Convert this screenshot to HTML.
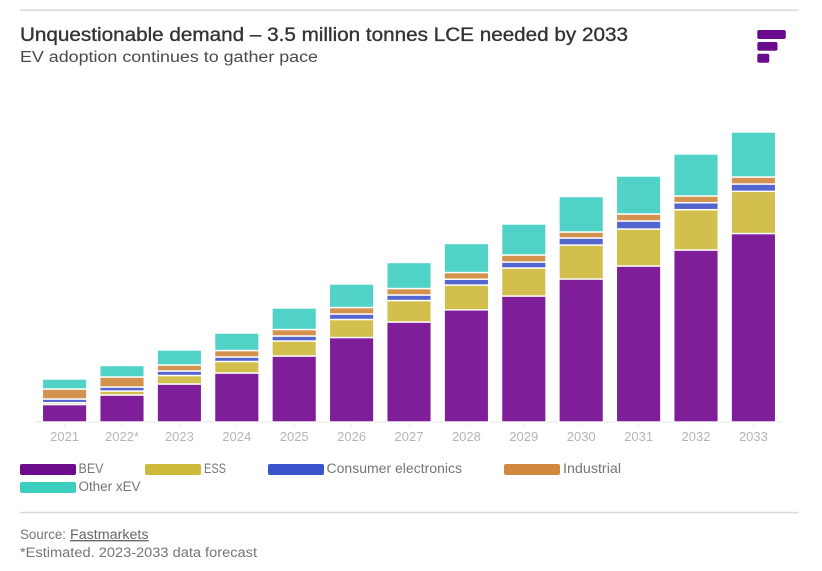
<!DOCTYPE html>
<html lang="en">
<head>
<meta charset="utf-8">
<title>Unquestionable demand</title>
<style>
  html, body { margin: 0; padding: 0; background: #fff; }
  svg { display: block; font-family: "Liberation Sans", sans-serif; }
</style>
</head>
<body>
<svg id="chart" xmlns="http://www.w3.org/2000/svg" width="822" height="571" viewBox="0 0 822 571">
  <rect x="20" y="9.5" width="779" height="1.5" fill="#d9d9d9"/>
  <text x="20" y="41" font-size="19.5" fill="#333333" stroke="#333333" stroke-width="0.35" textLength="608" lengthAdjust="spacingAndGlyphs">Unquestionable demand – 3.5 million tonnes LCE needed by 2033</text>
  <text x="20" y="62" font-size="15.5" fill="#4a4a4a" textLength="298" lengthAdjust="spacingAndGlyphs">EV adoption continues to gather pace</text>
  <g fill="#6a0a8e">
    <rect x="757.3" y="30" width="28.5" height="9" rx="2"/>
    <rect x="757.3" y="42" width="20.2" height="8.7" rx="2"/>
    <rect x="757.3" y="53.7" width="12" height="9" rx="2"/>
  </g>
  <g id="plot"></g>

  <g font-size="13.5" fill="#757575">
    <g>
      <rect x="20" y="464" width="56" height="11" rx="2" fill="#6c0b8c"/>
      <text x="78.5" y="473" textLength="25" lengthAdjust="spacingAndGlyphs">BEV</text>
    </g>
    <g>
      <rect x="145" y="464" width="56" height="11" rx="2" fill="#cdb93a"/>
      <text x="204" y="473" textLength="22" lengthAdjust="spacingAndGlyphs">ESS</text>
    </g>
    <g>
      <rect x="268" y="464" width="56" height="11" rx="2" fill="#3a55cc"/>
      <text x="326.5" y="473" textLength="135.5" lengthAdjust="spacingAndGlyphs">Consumer electronics</text>
    </g>
    <g>
      <rect x="504" y="464" width="56" height="11" rx="2" fill="#cf883c"/>
      <text x="563" y="473" textLength="58" lengthAdjust="spacingAndGlyphs">Industrial</text>
    </g>
    <g>
      <rect x="20" y="482" width="56" height="11" rx="2" fill="#3ccfc0"/>
      <text x="78.5" y="491" textLength="62" lengthAdjust="spacingAndGlyphs">Other xEV</text>
    </g>
  </g>

  <rect x="20" y="511.8" width="779" height="1.5" fill="#d9d9d9"/>
  <text x="20" y="539" font-size="13.5" fill="#757575" textLength="46" lengthAdjust="spacingAndGlyphs">Source:</text>
  <text x="70" y="539" font-size="13.5" fill="#666666" text-decoration="underline" textLength="78.5" lengthAdjust="spacingAndGlyphs">Fastmarkets</text>
  <text x="20" y="557" font-size="13.5" fill="#757575" textLength="237" lengthAdjust="spacingAndGlyphs">*Estimated. 2023-2033 data forecast</text>
</svg>
<script>
const categories = ['2021','2022*','2023','2024','2025','2026','2027','2028','2029','2030','2031','2032','2033'];
const bevValues = [210,324,456,588,792,1014,1200,1346,1512,1716,1872,2064,2262];
const essValues = [22,48,102,138,180,216,258,298,336,408,444,484,506];
const consumerValues = [44,48,54,54,60,66,66,70,72,84,96,84,88];
const industrialValues = [120,120,72,78,78,78,78,80,84,72,84,80,84];
const otherValues = [120,138,180,210,258,282,312,348,372,426,456,504,540];

const seriesList = [
  { key: 'bev', values: bevValues, color: '#7f1e99' },
  { key: 'ess', values: essValues, color: '#d2bf4d' },
  { key: 'consumer-electronics', values: consumerValues, color: '#5565cf' },
  { key: 'industrial', values: industrialValues, color: '#d3934f' },
  { key: 'other-xev', values: otherValues, color: '#50d3c6' }
];

const NS = 'http://www.w3.org/2000/svg';
const plot = document.getElementById('plot');
const baseY = 422;
const plotH = 290;
const maxV = 3480;
const plotLeft = 35.9;
const bandStep = 57.4;
const barW = 44.5;

function yPos(v) { return baseY - (v / maxV) * plotH; }
function xCenter(i) { return plotLeft + bandStep * (i + 0.5); }

const axis = document.createElementNS(NS, 'line');


axis.setAttribute('x1', plotLeft);
axis.setAttribute('x2', plotLeft + bandStep * categories.length);
axis.setAttribute('y1', baseY);
axis.setAttribute('y2', baseY);
axis.setAttribute('stroke', '#e6e6e6');
axis.setAttribute('stroke-width', '1');
plot.appendChild(axis);

categories.forEach(function (cat, i) {
  const tick = document.createElementNS(NS, 'line');
  
  
  tick.setAttribute('x1', xCenter(i));
  tick.setAttribute('x2', xCenter(i));
  tick.setAttribute('y1', baseY);
  tick.setAttribute('y2', baseY + 5);
  tick.setAttribute('stroke', '#efefef');
  plot.appendChild(tick);

  const label = document.createElementNS(NS, 'text');
  
  
  label.setAttribute('x', xCenter(i));
  label.setAttribute('y', 441);
  label.setAttribute('text-anchor', 'middle');
  label.setAttribute('font-size', '13');
  label.setAttribute('fill', '#b5b5b5');
  label.textContent = cat;
  plot.appendChild(label);

  let running = 0;
  seriesList.forEach(function (s) {
    const v = s.values[i];
    const rect = document.createElementNS(NS, 'rect');
    
    
    rect.setAttribute('x', xCenter(i) - barW / 2);
    rect.setAttribute('y', yPos(running + v));
    rect.setAttribute('width', barW);
    rect.setAttribute('height', yPos(running) - yPos(running + v));
    rect.setAttribute('fill', s.color);
    rect.setAttribute('stroke', '#ffffff');
    rect.setAttribute('stroke-width', '1.4');
    plot.appendChild(rect);
    running += v;
  });
});
</script>
</body>
</html>
